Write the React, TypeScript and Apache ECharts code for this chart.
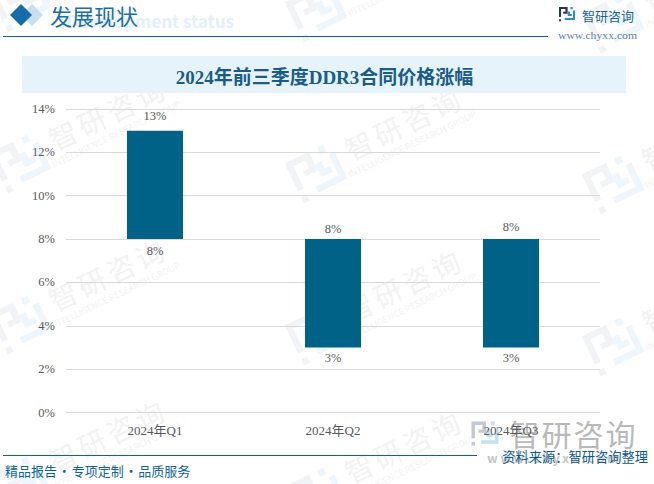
import React, { useEffect, useRef } from "react";
import * as echarts from "echarts";

const categories = ["2024年Q1", "2024年Q2", "2024年Q3"];
const lowValues = [8, 3, 3];
const highValues = [13, 8, 8];
const yTicks = { min: 0, max: 14, interval: 2 };
const chartTitle = "2024年前三季度DDR3合同价格涨幅";
const sectionTitle = "发展现状";
const sectionSubtitle = "Development status";
const brandName = "智研咨询";
const brandUrl = "www.chyxx.com";
const footerLeft = "精品报告\u200A·\u200A专项定制\u200A·\u200A品质服务";
const footerRight = "资料来源：智研咨询整理";

const SERIF = '"Liberation Serif", "Noto Sans CJK SC", serif';
const SANS = '"Noto Sans CJK SC", sans-serif';

echarts.graphic.registerShape(
  "logoLeft",
  echarts.graphic.extendPath(
    "M0 0H54V42H26V30H40V13H13V62H0ZM0 76H13V89H0Z",
    {}
  )
);
echarts.graphic.registerShape(
  "logoRight",
  echarts.graphic.extendPath(
    "M72 0H86V14H72ZM87 22H100V82H36V69H87ZM54 28H68V44H80V57H54Z",
    {}
  )
);

function logo(x: number, y: number, size: number, a: string, b: string, rotation = 0, z = -1) {
  const s = size / 100;
  return {
    type: "group",
    x,
    y,
    rotation,
    children: [
      { type: "logoLeft", x: -size / 2, y: -size / 2, scaleX: s, scaleY: s, z, style: { fill: a } },
      { type: "logoRight", x: -size / 2, y: -size / 2, scaleX: s, scaleY: s, z, style: { fill: b } },
    ],
  };
}

function spaced(
  value: string,
  cx: number,
  cy: number,
  pitch: number,
  font: string,
  fill: string,
  z: number
) {
  const chars = value.split("");
  return chars.map((ch, i) => ({
    type: "text",
    x: cx + (i - (chars.length - 1) / 2) * pitch,
    y: cy,
    z,
    style: { text: ch, font, fill, textAlign: "center", textVerticalAlign: "middle" },
  }));
}

function watermark(x: number, y: number) {
  return {
    type: "group",
    x,
    y,
    rotation: 0.45,
    children: [
      logo(0, 0, 50, "#f1f3f7", "#edf6fc", 0, -2),
      ...spaced(brandName, 98, -10, 32, `28px ${SANS}`, "#f2f2f2", -2),
      {
        type: "text",
        x: 98,
        y: 13,
        z: -2,
        style: {
          text: "INTELLIGENCE RESEARCH GROUP",
          font: `9px ${SANS}`,
          fill: "#f3f3f3",
          textAlign: "center",
          textVerticalAlign: "middle",
        },
      },
    ],
  };
}

function text(
  x: number,
  y: number,
  value: string,
  font: string,
  fill: string,
  textAlign = "left",
  z = 1,
  scaleX = 1
) {
  return {
    type: "text",
    x,
    y,
    z,
    scaleX,
    style: { text: value, font, fill, textAlign, textVerticalAlign: "middle" },
  };
}

export default function App() {
  const ref = useRef<HTMLDivElement>(null);
  useEffect(() => {
    const chart = echarts.init(ref.current!, undefined, { renderer: "svg" });
    const labelStyle = { fontFamily: SERIF, fontSize: 12.5, color: "#595959" };
    const watermarks: any[] = [];
    [
      [22, 4],
      [22, 165],
      [22, 326],
      [22, 487],
      [318, 14],
      [318, 175],
      [318, 337],
      [318, 498],
      [615, 25],
      [615, 186],
      [615, 348],
    ].forEach(([x, y]) => watermarks.push(watermark(x, y)));

    const topGaps = [8, 4, 6];

    chart.setOption({
      animation: false,
      backgroundColor: "#ffffff",
      grid: { left: 66, right: 54, top: 109, height: 303.5 },
      xAxis: {
        type: "category",
        data: categories,
        axisLine: { show: false },
        axisTick: { show: false },
        axisLabel: { ...labelStyle, fontSize: 13, margin: 11 },
      },
      yAxis: {
        type: "value",
        min: yTicks.min,
        max: yTicks.max,
        interval: yTicks.interval,
        axisLine: { show: false },
        axisTick: { show: false },
        axisLabel: { ...labelStyle, formatter: "{value}%", margin: 11 },
        splitLine: { lineStyle: { color: "#d9d9d9", width: 1 } },
      },
      series: [
        {
          type: "bar",
          stack: "range",
          barWidth: 56,
          data: lowValues.map((value, i) => ({
            value,
            label: { distance: i === 0 ? 6 : 4 },
          })),
          itemStyle: { color: "transparent" },
          label: {
            show: true,
            position: "insideTop",
            ...labelStyle,
            formatter: (p: any) => `${lowValues[p.dataIndex]}%`,
          },
        },
        {
          type: "bar",
          stack: "range",
          barWidth: 56,
          data: highValues.map((h, i) => ({
            value: h - lowValues[i],
            label: { distance: topGaps[i] },
          })),
          itemStyle: { color: "#006287" },
          label: {
            show: true,
            position: "top",
            ...labelStyle,
            formatter: (p: any) => `${highValues[p.dataIndex]}%`,
          },
        },
      ],
      graphic: {
        elements: [
          ...watermarks,
          // header
          text(234, 20, sectionSubtitle, `bold 17px ${SANS}`, "#e3f0fa", "right", 0),
          {
            type: "polygon",
            z: 0,
            shape: { points: [[32, 4], [43, 15], [32, 26], [21, 15]] },
            style: { fill: "#c9deee" },
          },
          {
            type: "polygon",
            z: 1,
            shape: { points: [[21, 4], [32, 15], [21, 26], [10, 15]] },
            style: { fill: "#146ca8" },
          },
          text(50, 15, sectionTitle, `22px ${SANS}`, "#1a6ea8"),
          {
            type: "line",
            z: 1,
            shape: { x1: 3, y1: 36.5, x2: 548, y2: 36.5 },
            style: { stroke: "#0f6496", lineWidth: 1 },
          },
          logo(567, 15, 16, "#24346f", "#2a8ecb", 0, 1),
          ...spaced(brandName, 608, 15, 13, `13px ${SANS}`, "#1a6496", 1),
          text(597.5, 35, brandUrl, `10px ${SERIF}`, "#5a7f9f", "center", 1, 1.17),
          // title band
          {
            type: "rect",
            z: -1,
            shape: { x: 22, y: 56, width: 604, height: 37 },
            style: { fill: "#e6f3fb" },
          },
          text(324.5, 77, chartTitle, `bold 19px ${SERIF}`, "#1a5c88", "center", 1),
          // footer
          {
            type: "line",
            z: 1,
            shape: { x1: 3, y1: 455.5, x2: 477, y2: 455.5 },
            style: { stroke: "#0f6496", lineWidth: 1 },
          },
          logo(485, 435, 27, "#c3c8d4", "#c4e0f3", 0, -1),
          ...spaced(brandName, 572.5, 433, 32, `30px ${SANS}`, "#b9b9b9", -1),
          text(553, 457, brandUrl.split("").join(" "), `bold 12px ${SANS}`, "#c4c4c4", "center", -1),
          text(5, 470, footerLeft, `13px ${SANS}`, "#0f6496", "left", 1),
          text(648, 456, footerRight, `13.25px ${SANS}`, "#0f5a8c", "right", 1),
        ],
      },
    });
    return () => chart.dispose();
  }, []);
  return (
    <div
      ref={ref}
      style={{ position: "absolute", left: 0, top: 0, width: 654, height: 484 }}
    />
  );
}
